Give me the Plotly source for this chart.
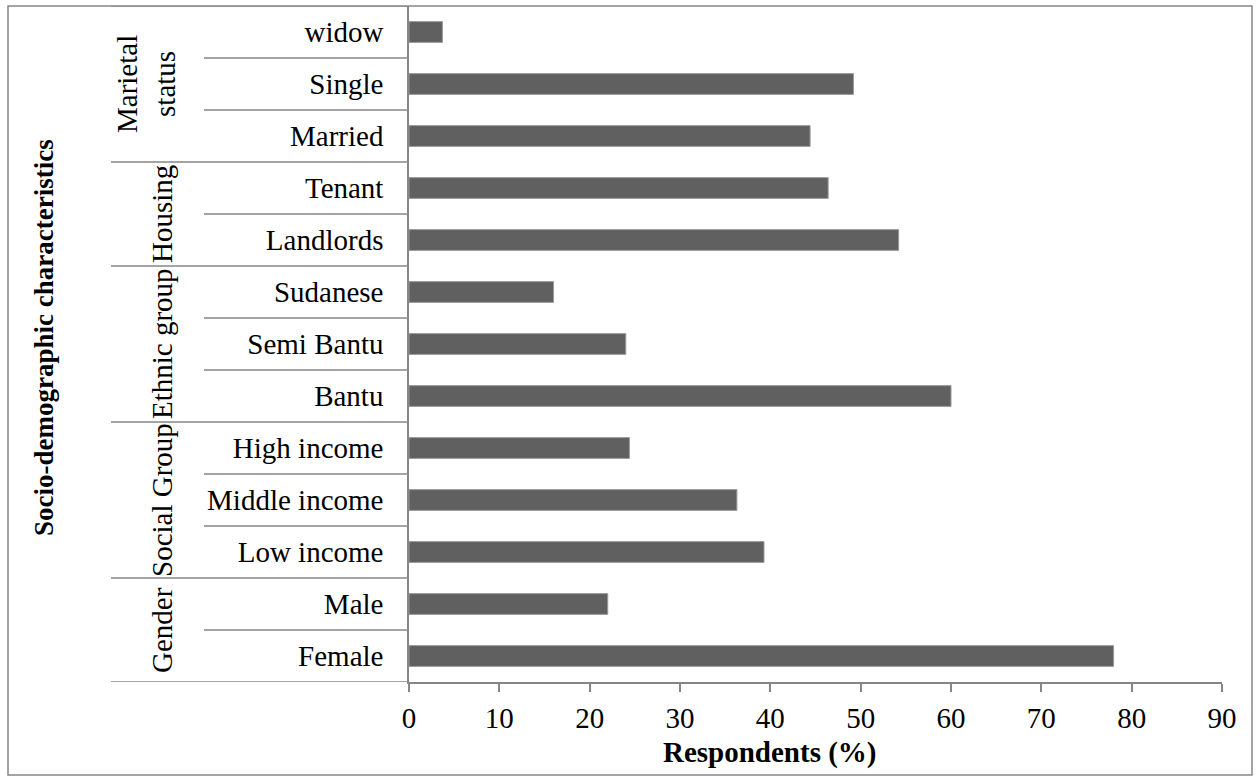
import plotly.graph_objects as go

# ---- data (bottom to top) ----
categories = ["Female", "Male", "Low income", "Middle income", "High income",
              "Bantu", "Semi Bantu", "Sudanese", "Landlords", "Tenant",
              "Married", "Single", "widow"]
values = [78, 22, 39.3, 36.3, 24.4, 60, 24, 16, 54.2, 46.4, 44.4, 49.2, 3.7]
group_names = ["Gender", "Social Group", "Ethnic group", "Housing", "Marietal<br>status"]
group_sizes = [2, 3, 3, 2, 3]
x_ticks = [0, 10, 20, 30, 40, 50, 60, 70, 80, 90]

# ---- layout geometry (pixels) ----
W, H = 1257, 776
L, R, T, B = 409, 1222, 6, 682
PW, PH = R - L, B - T

def px_x(p):
    return (p - L) / PW

def px_y(p):
    return (B - p) / PH

FONT = "Liberation Serif"
GRAY = "#868686"

fig = go.Figure()
fig.add_trace(go.Bar(
    x=values, y=categories, orientation="h",
    marker=dict(color="#606060", line=dict(color="#9a9a9a", width=1)),
    width=0.4, hoverinfo="x+y",
))

shapes = []
boundaries = []
start = 0
for size in group_sizes:
    boundaries.append(start - 0.5)
    for k in range(1, size):
        shapes.append(dict(type="line", xref="paper", yref="y",
                           x0=px_x(204), x1=0, y0=start + k - 0.5, y1=start + k - 0.5,
                           line=dict(color=GRAY, width=1.5)))
    start += size
boundaries.append(start - 0.5)
for b in boundaries:
    shapes.append(dict(type="line", xref="paper", yref="y",
                       x0=px_x(111), x1=0, y0=b, y1=b,
                       line=dict(color=GRAY, width=1.5)))
# outer frame
shapes.append(dict(type="rect", xref="paper", yref="paper",
                   x0=px_x(8), x1=px_x(1252), y0=px_y(775), y1=px_y(6),
                   line=dict(color=GRAY, width=1.5), fillcolor="rgba(0,0,0,0)"))

annotations = []
start = 0
for name, size in zip(group_names, group_sizes):
    center = start + (size - 1) / 2
    n_lines = name.count("<br>") + 1
    xpx = 162 if n_lines == 1 else 146
    annotations.append(dict(text=name, xref="paper", yref="y",
                            x=px_x(xpx), y=center, textangle=-90,
                            showarrow=False, xanchor="center", yanchor="middle",
                            font=dict(family=FONT, size=29, color="black")))
    start += size

annotations.append(dict(text="<b>Respondents (%)</b>", xref="paper", yref="paper",
                        x=px_x(770), y=px_y(752), showarrow=False,
                        xanchor="center", yanchor="middle",
                        font=dict(family=FONT, size=29, color="black")))
annotations.append(dict(text="<b>Socio-demographic characteristics</b>", xref="paper", yref="paper",
                        x=px_x(44), y=px_y(338), showarrow=False, textangle=-90,
                        xanchor="center", yanchor="middle",
                        font=dict(family=FONT, size=27, color="black")))

fig.update_layout(
    width=W, height=H,
    margin=dict(l=L, r=W - R, t=T, b=H - B, autoexpand=False),
    paper_bgcolor="white", plot_bgcolor="white",
    showlegend=False,
    shapes=shapes, annotations=annotations,
    font=dict(family=FONT, size=29, color="black"),
    xaxis=dict(range=[0, 90], tickvals=x_ticks, ticktext=[str(v) for v in x_ticks],
               showgrid=False, zeroline=False, showline=True, linecolor=GRAY, linewidth=1.5,
               ticks="outside", ticklen=8, tickwidth=1.5, tickcolor=GRAY,
               tickfont=dict(family=FONT, size=29, color="black"), ticklabelstandoff=1),
    yaxis=dict(type="category", categoryorder="array", categoryarray=categories,
               range=[-0.5, len(categories) - 0.5],
               showgrid=False, zeroline=False, showline=True, linecolor=GRAY, linewidth=1.5,
               ticks="", tickfont=dict(family=FONT, size=29, color="black"),
               ticklabelstandoff=18),
)

fig.write_html("out.html", config={"displayModeBar": False},
               post_script="document.body.style.margin='0';document.body.style.overflow='hidden';")
